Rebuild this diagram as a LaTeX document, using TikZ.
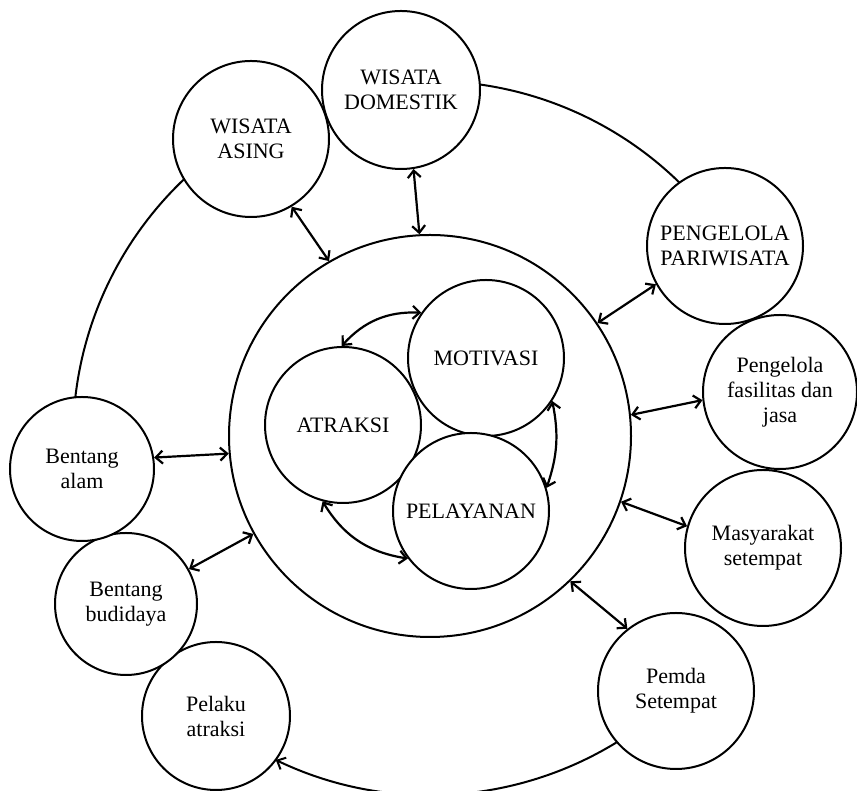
\documentclass[tikz,border=0pt]{standalone}
\usepackage{fontspec}
\setmainfont{Liberation Serif}
\usetikzlibrary{arrows.meta}
\begin{document}
\begin{tikzpicture}[x=1pt,y=1pt,
  bub/.style={circle,draw,fill=white,line width=2pt,inner sep=0pt,align=center,font=\fontsize{22}{25}\selectfont},
  tip/.tip={Straight Barb[length=7pt,width=13pt]},
  link/.style={line width=2.2pt,tip-tip},
  ring/.style={line width=2pt}]
\useasboundingbox (0,0) rectangle (857,791);
\coordinate (oc) at (430,353);
% outer ring segments
\draw[ring] (oc) ++(130:357) arc[start angle=130,end angle=175,radius=357];
\draw[ring] (oc) ++(90:357) arc[start angle=90,end angle=40,radius=357];
\draw[ring,-tip] (oc) ++(-50:357) arc[start angle=-50,end angle=-115.6,radius=357];
% central circle
\node[bub,minimum size=402pt] (big) at (430,355) {};
\node[bub,minimum size=156pt] (motiv) at (486,433) {MOTIVASI};
\node[bub,minimum size=156pt] (atr) at (343,366) {ATRAKSI};
\node[bub,minimum size=156pt] (pel) at (471,280) {PELAYANAN};
% outer circles
\node[bub,minimum size=156pt] (asing) at (251,652) {WISATA\\ASING};
\node[bub,minimum size=158pt] (dom) at (401,701) {WISATA\\DOMESTIK};
\node[bub,minimum size=156pt] (pp) at (725,545) {PENGELOLA\\PARIWISATA};
\node[bub,minimum size=154pt] (fas) at (780,399) {Pengelola\\fasilitas dan\\jasa};
\node[bub,minimum size=156pt] (mas) at (763,243) {Masyarakat\\setempat};
\node[bub,minimum size=156pt] (pemda) at (676,100) {Pemda\\Setempat};
\node[bub,minimum size=148pt] (pelaku) at (216,75) {Pelaku\\atraksi};
\node[bub,minimum size=142pt] (budi) at (126,187) {Bentang\\budidaya};
\node[bub,minimum size=144pt] (alam) at (82,322) {Bentang\\alam};
% links to central circle
\draw[link] (asing.-59) -- (big.120);
\draw[link] (dom.-81) -- (big.93);
\draw[link] (pp.-151) -- (big.34);
\draw[link] (fas.186) -- (big.6.5);
\draw[link] (mas.164) -- (big.-19);
\draw[link] (pemda.128) -- (big.-46);
\draw[link] (alam.9) -- (big.185);
\draw[link] (budi.29) -- (big.209);
% inner links
\draw[link] (atr.91) to[bend left=25] (motiv.145);
\draw[link] (motiv.-33) to[bend left=15] (pel.17);
\draw[link] (atr.-105) to[bend right=25] (pel.-143);
\end{tikzpicture}
\end{document}
